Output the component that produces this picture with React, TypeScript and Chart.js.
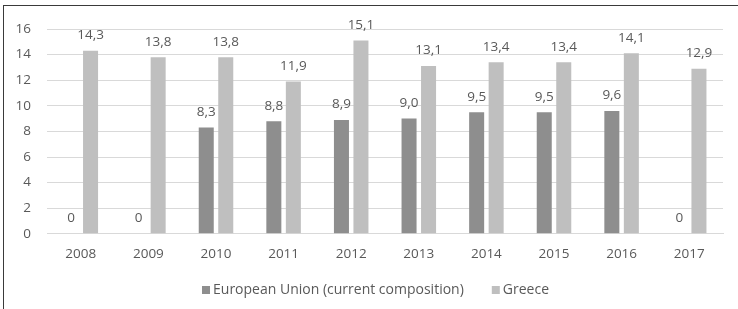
import React, { useEffect, useRef } from "react";
import { Chart, registerables } from "chart.js";

Chart.register(...registerables);

const categories = ["2008", "2009", "2010", "2011", "2012", "2013", "2014", "2015", "2016", "2017"];
const euValues = [0, 0, 8.3, 8.8, 8.9, 9.0, 9.5, 9.5, 9.6, 0];
const greeceValues = [14.3, 13.8, 13.8, 11.9, 15.1, 13.1, 13.4, 13.4, 14.1, 12.9];
const seriesNames = ["European Union (current composition)", "Greece"];
const yTicks = [0, 2, 4, 6, 8, 10, 12, 14, 16];

const FONT = "'Open Sans', sans-serif";
const TEXT = "#595959";
const SIZE = 13.5;

const labelPlugin = {
  id: "barLabels",
  afterDatasetsDraw(chart: any) {
    const ctx = chart.ctx;
    ctx.save();
    ctx.font = `${SIZE}px ${FONT}`;
    ctx.fillStyle = TEXT;
    ctx.textAlign = "center";
    ctx.textBaseline = "middle";
    chart.data.datasets.forEach((ds: any, di: number) => {
      const meta = chart.getDatasetMeta(di);
      meta.data.forEach((bar: any, i: number) => {
        const v = ds.data[i] as number;
        const txt = v === 0 ? "0" : v.toFixed(1).replace(".", ",");
        ctx.fillText(txt, bar.x, bar.y - 15.5);
      });
    });
    ctx.restore();
  },
};

const legendPlugin = {
  id: "customLegend",
  afterDraw(chart: any) {
    const ctx = chart.ctx;
    ctx.save();
    ctx.font = `14px ${FONT}`;
    ctx.textBaseline = "middle";
    ctx.textAlign = "left";
    const box = 8;
    const boxGap = 3;
    const itemGap = 28;
    const ds = chart.data.datasets;
    const widths = ds.map((d: any) => box + boxGap + ctx.measureText(d.label).width);
    const total = widths.reduce((a: number, b: number) => a + b, 0) + itemGap * (ds.length - 1);
    let x = chart.width / 2 + 6.5 - total / 2;
    const y = 290;
    ds.forEach((d: any, i: number) => {
      ctx.fillStyle = d.backgroundColor;
      ctx.fillRect(x, y - box / 2, box, box);
      ctx.fillStyle = TEXT;
      ctx.fillText(d.label, x + box + boxGap, y);
      x += widths[i] + itemGap;
    });
    ctx.restore();
  },
};

export default function App() {
  const ref = useRef<HTMLCanvasElement>(null);
  useEffect(() => {
    const chart = new Chart(ref.current!, {
      type: "bar",
      data: {
        labels: categories,
        datasets: [
          {
            label: seriesNames[0],
            data: euValues,
            backgroundColor: "#8e8e8e",
            categoryPercentage: 0.577,
            barPercentage: 0.77,
          },
          {
            label: seriesNames[1],
            data: greeceValues,
            backgroundColor: "#bfbfbf",
            categoryPercentage: 0.577,
            barPercentage: 0.77,
          },
        ],
      },
      options: {
        animation: false,
        responsive: false,
        maintainAspectRatio: false,
        layout: { padding: { left: 0, right: 15, top: 29, bottom: 35 } },
        scales: {
          x: {
            grid: { display: false, drawTicks: false },
            border: { color: "#d9d9d9" },
            ticks: { color: TEXT, font: { family: FONT, size: SIZE }, padding: 12 },
          },
          y: {
            min: 0,
            max: 16,
            afterFit(scale: any) {
              scale.width = 47;
            },
            afterBuildTicks(scale: any) {
              scale.ticks = yTicks.map((v) => ({ value: v }));
            },
            grid: { color: "#d9d9d9", drawTicks: false },
            border: { display: false },
            ticks: { color: TEXT, font: { family: FONT, size: SIZE }, padding: 16 },
          },
        },
        plugins: {
          legend: { display: false },
          tooltip: { enabled: false },
        },
      },
      plugins: [labelPlugin, legendPlugin],
    });
    return () => chart.destroy();
  }, []);
  return (
    <div style={{ position: "fixed", left: 0, top: 0, width: 738, height: 309, background: "#fff" }}>
      <div
        style={{
          position: "absolute",
          left: 3,
          top: 5,
          width: 740,
          height: 310,
          borderLeft: "1px solid #3a3a3a",
          borderTop: "1px solid #3a3a3a",
          boxSizing: "border-box",
        }}
      />
      <canvas ref={ref} width={738} height={309} style={{ position: "absolute", left: 0, top: 0 }} />
    </div>
  );
}
